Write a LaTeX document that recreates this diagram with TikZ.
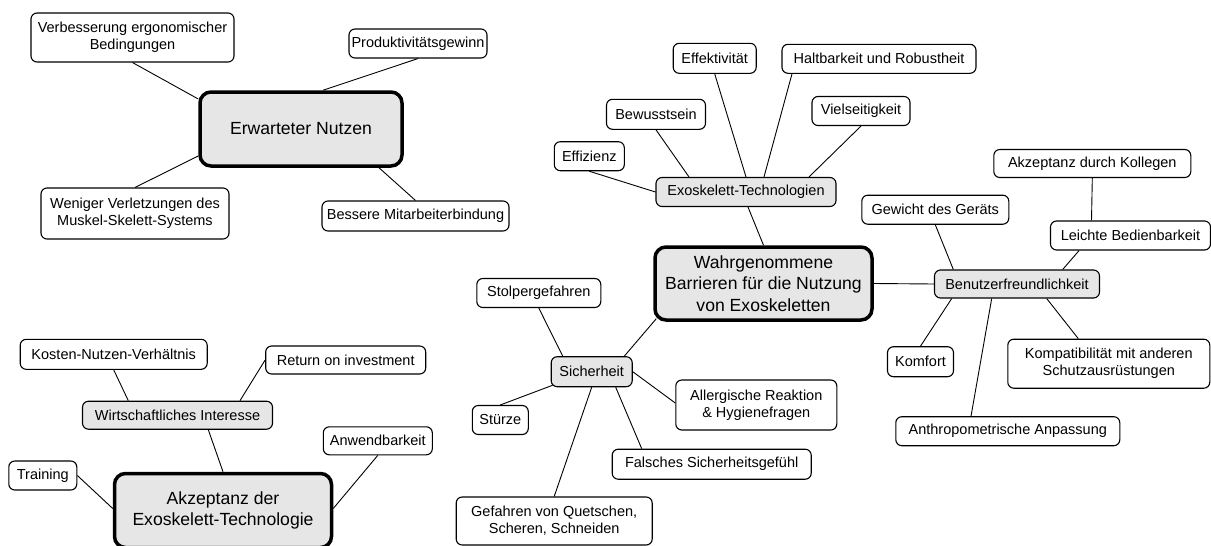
\documentclass[tikz,border=0pt]{standalone}
\usepackage{fontspec}
\setmainfont{Liberation Sans}
\definecolor{hubgray}{RGB}{230,230,230}
\begin{document}
\begin{tikzpicture}[x=1pt,y=-1pt,
  leaf/.style={draw=black, line width=1.1pt, rounded corners=6pt, fill=white,
    inner sep=0pt, align=center, font=\fontsize{14.5}{17}\selectfont},
  hub/.style={leaf, fill=hubgray},
  core/.style={draw=black, line width=3.5pt, rounded corners=11pt, fill=hubgray,
    inner sep=0pt, align=center, font=\fontsize{17.6}{21.7}\selectfont},
  link/.style={draw=black, line width=0.9pt}]
\useasboundingbox (0,0) rectangle (1211,546);

% --- Erwarteter Nutzen ---
\node[core, minimum width=202pt, minimum height=74pt] (erw) at (301,129) {Erwarteter Nutzen};
\node[leaf, minimum width=203pt, minimum height=49pt] (verb) at (132.5,37.5) {Verbesserung ergonomischer\\Bedingungen};
\node[leaf, minimum width=138pt, minimum height=29pt] (prod) at (418,43.5) {Produktivitätsgewinn};
\node[leaf, minimum width=188pt, minimum height=51pt] (wen) at (135,213.5) {Weniger Verletzungen des\\Muskel-Skelett-Systems};
\node[leaf, minimum width=187pt, minimum height=30pt] (bes) at (415.5,216) {Bessere Mitarbeiterbindung};

\draw[link] (verb.south) -- ([yshift=30pt]erw.west);
\draw[link] (prod.south) -- ([xshift=22pt]erw.north);
\draw[link] (wen.north) -- ([yshift=-27pt]erw.west);
\draw[link] (bes.north) -- ([xshift=78pt]erw.south);

% --- Wahrgenommene Barrieren ---
\node[core, minimum width=217pt, minimum height=73pt] (wahr) at (763.5,283.5) {Wahrgenommene\\Barrieren für die Nutzung\\von Exoskeletten};

% Exoskelett-Technologien
\node[hub, minimum width=180pt, minimum height=29pt] (exo) at (746,192) {Exoskelett-Technologien};
\node[leaf, minimum width=83pt, minimum height=30pt] (effk) at (714.7,58.3) {Effektivität};
\node[leaf, minimum width=194pt, minimum height=29pt] (halt) at (879,58.8) {Haltbarkeit und Robustheit};
\node[leaf, minimum width=99pt, minimum height=30pt] (bew) at (656,114.3) {Bewusstsein};
\node[leaf, minimum width=98pt, minimum height=29pt] (viel) at (861,111) {Vielseitigkeit};
\node[leaf, minimum width=70pt, minimum height=29pt] (effz) at (589.3,156.2) {Effizienz};

\draw[link] (effz.south) -- (exo.west);
\draw[link] (bew.south) -- ([xshift=-57pt]exo.north);
\draw[link] (effk.south) -- (exo.north);
\draw[link] ([xshift=-87pt]halt.south) -- ([xshift=18pt]exo.north);
\draw[link] (viel.south) -- ([xshift=63pt]exo.north);
\draw[link] ([xshift=2pt]exo.south) -- (wahr.north);

% Benutzerfreundlichkeit
\node[hub, minimum width=165pt, minimum height=28pt] (ben) at (1017,284) {Benutzerfreundlichkeit};
\node[leaf, minimum width=197pt, minimum height=28pt] (akk) at (1092.3,163.5) {Akzeptanz durch Kollegen};
\node[leaf, minimum width=147pt, minimum height=29pt] (gew) at (935.3,209.7) {Gewicht des Geräts};
\node[leaf, minimum width=160pt, minimum height=29pt] (lei) at (1130.5,235.5) {Leichte Bedienbarkeit};
\node[leaf, minimum width=66pt, minimum height=30pt] (kom) at (920.5,361.7) {Komfort};
\node[leaf, minimum width=202pt, minimum height=49pt] (kpt) at (1108.8,363.7) {Kompatibilität mit anderen\\Schutzausrüstungen};
\node[leaf, minimum width=224pt, minimum height=29pt] (ant) at (1007.8,431.2) {Anthropometrische Anpassung};

\draw[link] (wahr.east) -- (ben.west);
\draw[link] (gew.south) -- ([xshift=-63.7pt]ben.north);
\draw[link] (akk.south) -- ([xshift=-39pt]lei.north);
\draw[link] ([xshift=-51.4pt]lei.south) -- ([xshift=45.7pt]ben.north);
\draw[link] ([xshift=-65.3pt]ben.south) -- (kom.north);
\draw[link] ([xshift=-25.3pt]ben.south) -- ([xshift=-36.8pt]ant.north);
\draw[link] ([xshift=29.7pt]ben.south) -- ([xshift=-30.5pt]kpt.north);

% Sicherheit
\node[hub, minimum width=81pt, minimum height=30pt] (sic) at (591.7,371.7) {Sicherheit};
\node[leaf, minimum width=124pt, minimum height=29pt] (sto) at (538.8,293) {Stolpergefahren};
\node[leaf, minimum width=56pt, minimum height=29pt] (stu) at (500.3,420) {Stürze};
\node[leaf, minimum width=161pt, minimum height=50pt] (all) at (756.3,405) {Allergische Reaktion\\\& Hygienefragen};
\node[leaf, minimum width=199pt, minimum height=30pt] (fal) at (711.7,464.2) {Falsches Sicherheitsgefühl};
\node[leaf, minimum width=196pt, minimum height=48pt] (gef) at (554.2,521) {Gefahren von Quetschen,\\Scheren, Schneiden};

\draw[link] ([xshift=32.6pt]sic.north) -- ([xshift=3pt,yshift=3pt]wahr.south west);
\draw[link] (sto.south) -- ([xshift=-29pt]sic.north);
\draw[link] ([xshift=2pt,yshift=2pt]sic.south west) -- (stu.north);
\draw[link] (sic.east) -- ([yshift=2pt]all.west);
\draw[link] ([xshift=24pt]sic.south) -- ([xshift=-70pt]fal.north);
\draw[link] (sic.south) -- (gef.north);

% --- Akzeptanz der Exoskelett-Technologie ---
\node[core, minimum width=217pt, minimum height=74pt] (akz) at (223,510.5) {Akzeptanz der\\Exoskelett-Technologie};
\node[hub, minimum width=190pt, minimum height=28pt] (wir) at (177.5,415.2) {Wirtschaftliches Interesse};
\node[leaf, minimum width=187pt, minimum height=30pt] (kos) at (113.7,354.3) {Kosten-Nutzen-Verhältnis};
\node[leaf, minimum width=160pt, minimum height=28pt] (ret) at (345.7,360) {Return on investment};
\node[leaf, minimum width=109pt, minimum height=28pt] (anw) at (377.8,440.8) {Anwendbarkeit};
\node[leaf, minimum width=68pt, minimum height=29pt] (tra) at (42.8,475.5) {Training};

\draw[link] (kos.south) -- ([xshift=-49.2pt]wir.north);
\draw[link] (ret.west) -- ([xshift=62.5pt]wir.north);
\draw[link] ([xshift=30.8pt]wir.south) -- (akz.north);
\draw[link] (tra.east) -- ([yshift=2pt]akz.west);
\draw[link] (anw.south) -- ([yshift=2pt]akz.east);
\end{tikzpicture}
\end{document}
